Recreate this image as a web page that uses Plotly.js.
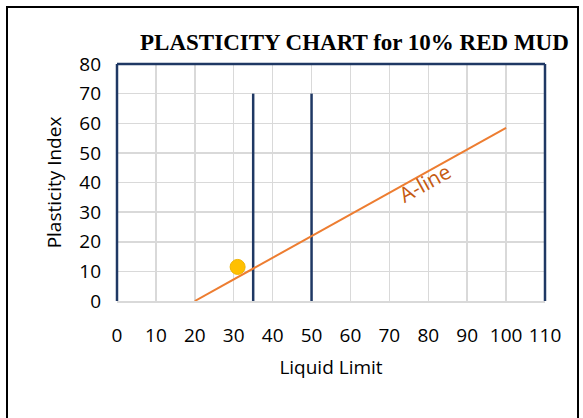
<!DOCTYPE html>
<html>
<head>
<meta charset="utf-8">
<script src="https://cdn.plot.ly/plotly-3.0.1.min.js"></script>
<style>
  html, body { margin: 0; padding: 0; background: #fff; }
  #chart { width: 583px; height: 418px; }
</style>
</head>
<body>
<div id="chart"></div>
<script>
// Sample result: liquid limit vs plasticity index
const sampleLL = [31];
const samplePI = [11.5];

// A-line: PI = 0.73 (LL - 20)
const aLineLL = [20, 100];
const aLinePI = [0, 58.4];

// Boundaries between low / intermediate / high plasticity
const boundary1LL = [35, 35];
const boundary1PI = [0, 70];
const boundary2LL = [50, 50];
const boundary2PI = [0, 70];

const xTicks = [0, 10, 20, 30, 40, 50, 60, 70, 80, 90, 100, 110];
const yTicks = [0, 10, 20, 30, 40, 50, 60, 70, 80];

const navy = '#1f3864';
const orange = '#ed7d31';

const traces = [
  { x: boundary1LL, y: boundary1PI, mode: 'lines', line: { color: navy, width: 2.5 }, hoverinfo: 'skip' },
  { x: boundary2LL, y: boundary2PI, mode: 'lines', line: { color: navy, width: 2.5 }, hoverinfo: 'skip' },
  { x: aLineLL, y: aLinePI, mode: 'lines', line: { color: orange, width: 2 }, hoverinfo: 'skip' },
  { x: sampleLL, y: samplePI, mode: 'markers',
    marker: { color: '#ffc000', size: 15, line: { color: '#f0b400', width: 1 } } }
];

const tickFont = { family: 'Open Sans, sans-serif', size: 19, color: '#000' };
const titleFont = { family: 'Open Sans, sans-serif', size: 19, color: '#000' };

const layout = {
  width: 583,
  height: 418,
  margin: { l: 117, r: 38, t: 64, b: 117 },
  paper_bgcolor: '#fff',
  plot_bgcolor: '#fff',
  showlegend: false,
  title: {
    text: '<b>PLASTICITY CHART for 10% RED MUD</b>',
    font: { family: 'Liberation Serif, serif', size: 23, color: '#000' },
    x: 0.608, xanchor: 'center', xref: 'container',
    y: 0.9, yanchor: 'middle', yref: 'container'
  },
  xaxis: {
    range: [0, 110],
    tickvals: xTicks,
    ticktext: xTicks.map(String),
    tickfont: tickFont,
    ticks: '',
    ticklabelstandoff: 16,
    showgrid: true,
    gridcolor: '#d9d9d9',
    gridwidth: 1.5,
    zeroline: false,
    showline: true,
    linecolor: '#d9d9d9',
    linewidth: 2,
    fixedrange: true,
    title: { text: 'Liquid Limit', font: titleFont, standoff: 14 }
  },
  yaxis: {
    range: [0, 80],
    tickvals: yTicks,
    ticktext: yTicks.map(String),
    tickfont: tickFont,
    ticks: '',
    ticklabelstandoff: 15,
    showgrid: true,
    gridcolor: '#d9d9d9',
    gridwidth: 1.5,
    zeroline: false,
    showline: false,
    fixedrange: true,
    title: { text: 'Plasticity Index', font: titleFont, standoff: 12 }
  },
  shapes: [
    // plot-area frame: left, top, right sides
    { type: 'line', xref: 'paper', yref: 'paper', x0: 0, x1: 0, y0: 0, y1: 1, line: { color: navy, width: 2.5 } },
    { type: 'line', xref: 'paper', yref: 'paper', x0: 0, x1: 1, y0: 1, y1: 1, line: { color: navy, width: 2.5 } },
    { type: 'line', xref: 'paper', yref: 'paper', x0: 1, x1: 1, y0: 0, y1: 1, line: { color: navy, width: 2.5 } },
    // outer chart border
    { type: 'rect', xref: 'paper', yref: 'paper',
      x0: -110 / 428, x1: 1 + 33 / 428, y0: -130 / 237, y1: 1 + 57 / 237,
      line: { color: '#000', width: 2 }, fillcolor: 'rgba(0,0,0,0)', layer: 'above' }
  ],
  annotations: [
    { x: 79, y: 40, xref: 'x', yref: 'y', text: 'A-line', showarrow: false,
      textangle: -29,
      font: { family: 'Open Sans, sans-serif', size: 21, color: '#c55a11' } }
  ]
};

Plotly.newPlot('chart', traces, layout, { displayModeBar: false, staticPlot: true });
</script>
</body>
</html>
